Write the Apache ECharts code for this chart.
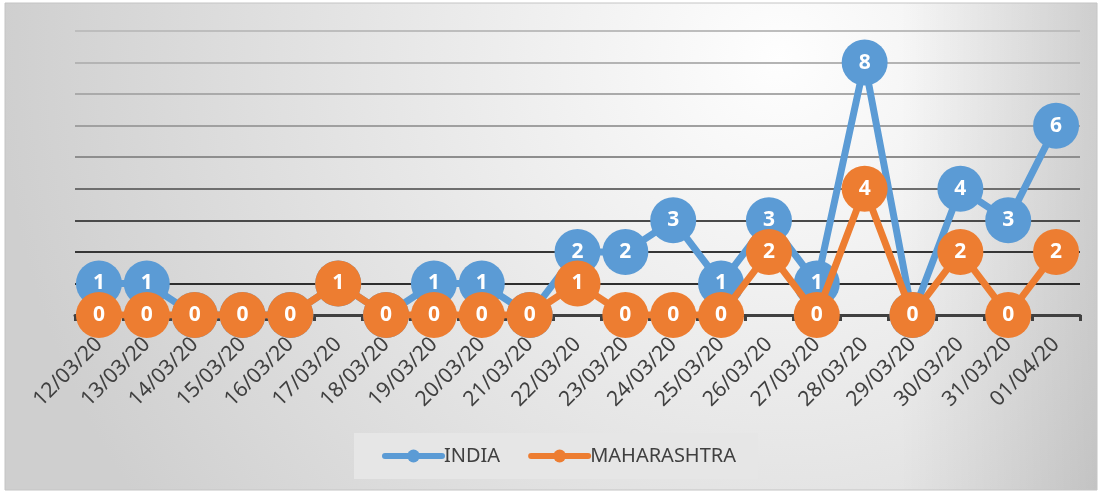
<!DOCTYPE html>
<html>
<head>
<meta charset="utf-8">
<script src="https://cdn.jsdelivr.net/npm/echarts@6/dist/echarts.min.js"></script>
<style>
  html, body { margin: 0; padding: 0; background: #fff; }
  #chart { width: 1102px; height: 493px; }
</style>
</head>
<body>
<div id="chart"></div>
<script>
// dates on the x axis
const dates = [
  "12/03/20", "13/03/20", "14/03/20", "15/03/20", "16/03/20", "17/03/20", "18/03/20",
  "19/03/20", "20/03/20", "21/03/20", "22/03/20", "23/03/20", "24/03/20", "25/03/20",
  "26/03/20", "27/03/20", "28/03/20", "29/03/20", "30/03/20", "31/03/20", "01/04/20"
];
const india = [1, 1, 0, 0, 0, 1, 0, 1, 1, 0, 2, 2, 3, 1, 3, 1, 8, 0, 4, 3, 6];
const maharashtra = [0, 0, 0, 0, 0, 1, 0, 0, 0, 0, 1, 0, 0, 0, 2, 0, 4, 0, 2, 0, 2];

// gridline shades, bottom (0) to top (9)
const gridColors = ["#404040", "#2e2e2e", "#363636", "#4a4a4a", "#6e6e6e",
  "#8e8e8e", "#a0a0a0", "#aaaaaa", "#b4b4b4", "#bdbdbd"];

const chart = echarts.init(document.getElementById("chart"));

function lineSeries(name, data, color, z) {
  return {
    type: "line",
    name: name,
    data: data,
    z: z,
    symbol: "circle",
    symbolSize: 46,
    lineStyle: { color: color, width: 7 },
    itemStyle: { color: color },
    label: {
      show: true,
      position: "inside",
      color: "#fff",
      fontFamily: "Noto Sans",
      fontWeight: "bold",
      fontSize: 21
    },
    emphasis: { disabled: true },
    animation: false
  };
}

chart.setOption({
  animation: false,
  graphic: [
    {
      type: "rect",
      z: -10,
      silent: true,
      shape: { x: 5, y: 3, width: 1092, height: 487 },
      style: {
        fill: new echarts.graphic.RadialGradient(780, 60, 780, [
          { offset: 0, color: "#fefefe" },
          { offset: 0.45, color: "#e9e9e9" },
          { offset: 1, color: "#cfcfcf" }
        ], true),
        stroke: "#c4c4c4",
        lineWidth: 1
      }
    },
    {
      // darker shade toward the right edge
      type: "rect",
      z: -9,
      silent: true,
      shape: { x: 900, y: 3.5, width: 196.5, height: 486 },
      style: {
        fill: new echarts.graphic.LinearGradient(0, 0, 1, 0, [
          { offset: 0, color: "rgba(0,0,0,0)" },
          { offset: 1, color: "rgba(0,0,0,0.12)" }
        ])
      }
    }
  ],
  grid: {
    left: 75,
    right: 22,
    top: 31,
    bottom: 178
  },
  legend: {
    data: ["INDIA", "MAHARASHTRA"],
    left: 354,
    top: 433,
    padding: [13, 22, 13, 28],
    backgroundColor: "#e6e6e6",
    itemWidth: 57,
    itemHeight: 16,
    itemGap: 28,
    lineStyle: { width: 6, cap: "round" },
    textStyle: {
      color: "#404040",
      fontFamily: "Noto Sans",
      fontSize: 20,
      padding: [0, 0, 0, -3]
    }
  },
  xAxis: {
    type: "category",
    data: dates,
    axisLine: { lineStyle: { color: "#404040", width: 3 } },
    axisTick: { show: true, length: 6, lineStyle: { color: "#404040", width: 3 } },
    axisLabel: {
      rotate: 45,
      interval: 0,
      margin: 26,
      color: "#404040",
      fontFamily: "Noto Sans",
      fontSize: 21
    }
  },
  yAxis: {
    type: "value",
    min: 0,
    max: 9,
    interval: 1,
    axisLabel: { show: false },
    axisLine: { show: false },
    axisTick: { show: false },
    splitLine: { lineStyle: { color: gridColors, width: 2 } }
  },
  series: [
    lineSeries("INDIA", india, "#5B9BD5", 2),
    lineSeries("MAHARASHTRA", maharashtra, "#ED7D31", 3)
  ]
});
</script>
</body>
</html>
